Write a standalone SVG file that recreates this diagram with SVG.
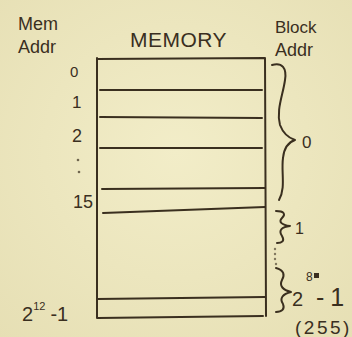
<svg xmlns="http://www.w3.org/2000/svg" width="352" height="337" viewBox="0 0 352 337">
<defs>
<radialGradient id="bg" cx="50%" cy="45%" r="75%">
<stop offset="0" stop-color="#f2edc8"/>
<stop offset="1" stop-color="#e6dfb4"/>
</radialGradient>
<style>
.ink{fill:none;stroke:#3a2f1f;stroke-width:2;stroke-linecap:round;stroke-linejoin:round}
.t{font-family:"Liberation Sans",Arial,sans-serif;fill:#3a2f1f}
</style>
</defs>
<rect width="352" height="337" fill="url(#bg)"/>
<g id="header-mem-addr">
<text class="t" x="18" y="30" font-size="18">Mem</text>
<text class="t" x="18" y="53" font-size="18">Addr</text>
</g>
<g id="header-memory">
<text class="t" x="130" y="47" font-size="21" letter-spacing="0.5">MEMORY</text>
</g>
<g id="header-block-addr">
<text class="t" x="275" y="33" font-size="17">Block</text>
<text class="t" x="275" y="56" font-size="18">Addr</text>
</g>
<g id="memory">
<path class="ink" d="M97,59 L265,58 M97,58 L97,318 M265,58 L266,316 M98,318 L263,316"/>
<path class="ink" d="M100,90 L262,90 M100,117 L262,118 M100,148 L262,148 M102,189 L265,188 M103,213 L265,207 M97,299 L265,297"/>
</g>
<g id="mem-addresses">
<text class="t" x="70" y="77" font-size="15">0</text>
<text class="t" x="72" y="108" font-size="17">1</text>
<text class="t" x="72" y="142" font-size="18">2</text>
<circle cx="78" cy="160" r="1.3" fill="#3a2f1f" opacity="0.7"/>
<circle cx="79" cy="172" r="1.3" fill="#3a2f1f" opacity="0.7"/>
<text class="t" x="73" y="208" font-size="18">15</text>
<text class="t" x="22" y="321" font-size="20">2<tspan font-size="11" dy="-11">12</tspan><tspan dy="11" dx="5">-1</tspan></text>
</g>
<g id="connectors">
<path class="ink" d="M272,65 C282,62 287,68 285,80 C283,95 276,110 280,125 C283,133 289,138 295,140 C289,142 284,148 283,158 C281,172 286,188 279,200"/>
<path class="ink" d="M276,211 C284,211 286,214 282,218 C278,222 282,225 290,226 C282,227 278,230 282,236 C285,241 282,243 277,243"/>
<g fill="#3a2f1f" opacity="0.6">
<circle cx="275" cy="249" r="1.2"/>
<circle cx="275" cy="254" r="1.2"/>
<circle cx="275" cy="259" r="1.2"/>
<circle cx="276" cy="264" r="1.2"/>
</g>
<path class="ink" d="M276,268 C284,270 285,275 282,280 C279,286 283,290 291,292 C283,294 279,298 283,304 C285,309 282,312 276,312"/>
</g>
<g id="block-addresses">
<text class="t" x="302" y="148" font-size="17">0</text>
<text class="t" x="295" y="234" font-size="16">1</text>
<text class="t" x="292" y="306" font-size="20">2</text>
<text class="t" x="306" y="281" font-size="12">8</text>
<rect x="314" y="273" width="5" height="5" fill="#3a2f1f"/>
<text class="t" x="316" y="306" font-size="25">-<tspan dx="6">1</tspan></text>
<text class="t" x="295" y="334" font-size="19" letter-spacing="2.5">(255)</text>
</g>
</svg>
